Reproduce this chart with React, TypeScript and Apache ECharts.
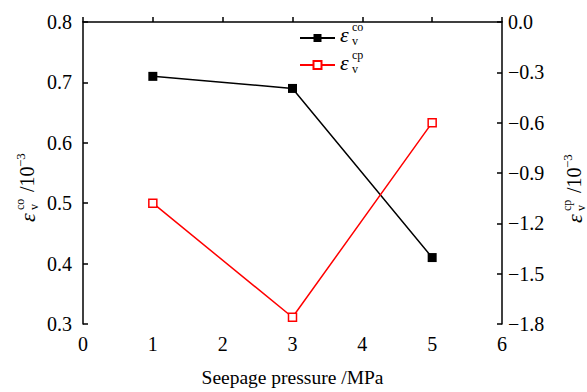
import React, { useEffect, useRef } from "react";
import * as echarts from "echarts";

const pressures = [1, 3, 5];
const strainCo = [0.71, 0.69, 0.41];
const strainCp = [-1.08, -1.76, -0.6];
const xTicks = [0, 1, 2, 3, 4, 5, 6];
const leftTicks = [0.3, 0.4, 0.5, 0.6, 0.7, 0.8];
const rightTicks = [-1.8, -1.5, -1.2, -0.9, -0.6, -0.3, 0.0];
const seriesNames = ["co", "cp"];

const FONT = "Liberation Serif";

function fmtRight(v: number) {
  if (Math.abs(v) < 1e-9) return "0.0";
  return (v < 0 ? "\u2212" : "") + Math.abs(v).toFixed(1);
}

function txt(text: string, x: number, y: number, size: number, italic = false) {
  return {
    type: "text",
    x,
    y,
    style: {
      text,
      fontFamily: FONT,
      fontSize: size,
      fontStyle: italic ? "italic" : "normal",
      fill: "#000",
      verticalAlign: "middle",
      align: "left",
    },
  };
}

function strainLabel(sup: string, x: number, y: number, rotation: number, withUnit: boolean) {
  const children: any[] = [txt("\u03b5", 0, 0, 22, true), txt(sup, 12, -7.5, 12), txt("v", 12, 6.5, 12)];
  if (withUnit) {
    children.push(txt("/10", 30, 0, 20), txt("\u22123", 55, -7, 13));
  }
  return { type: "group", x, y, rotation, children };
}

export default function App() {
  const ref = useRef<HTMLDivElement>(null);
  useEffect(() => {
    if (!ref.current) return;
    const chart = echarts.init(ref.current, undefined, { renderer: "svg" });
    const axisLine = { show: true, lineStyle: { color: "#000", width: 1.5 } };
    const axisTick = { show: true, inside: true, length: 5, lineStyle: { color: "#000", width: 1.5 } };
    chart.setOption({
      animation: false,
      backgroundColor: "#fff",
      textStyle: { fontFamily: FONT },
      grid: { left: 83, right: 85, top: 22, bottom: 66 },
      legend: {
        orient: "vertical",
        left: 294,
        top: 28,
        itemWidth: 35,
        itemHeight: 10,
        itemGap: 18,
        formatter: () => "",
        data: seriesNames.map((n) => n),
        selectedMode: false,
      },
      xAxis: {
        type: "value",
        min: xTicks[0],
        max: xTicks[xTicks.length - 1],
        interval: 1,
        name: "Seepage pressure /MPa",
        nameLocation: "middle",
        nameGap: 43,
        nameTextStyle: { fontFamily: FONT, fontSize: 19.5, color: "#000" },
        axisLine,
        axisTick,
        splitLine: { show: false },
        axisLabel: { fontFamily: FONT, fontSize: 20, color: "#000", margin: 10 },
      },
      yAxis: [
        {
          type: "value",
          min: leftTicks[0],
          max: leftTicks[leftTicks.length - 1],
          interval: 0.1,
          axisLine,
          axisTick,
          splitLine: { show: false },
          axisLabel: { fontFamily: FONT, fontSize: 20, color: "#000", margin: 11, formatter: (v: number) => v.toFixed(1) },
        },
        {
          type: "value",
          position: "right",
          min: rightTicks[0],
          max: rightTicks[rightTicks.length - 1],
          interval: 0.3,
          axisLine,
          axisTick,
          splitLine: { show: false },
          axisLabel: { fontFamily: FONT, fontSize: 20, color: "#000", margin: 6, formatter: fmtRight },
        },
      ],
      series: [
        {
          name: seriesNames[0],
          type: "line",
          yAxisIndex: 0,
          data: pressures.map((p, i) => [p, strainCo[i]]),
          symbol: "rect",
          symbolSize: 9,
          lineStyle: { color: "#000", width: 1.5 },
          itemStyle: { color: "#000" },
        },
        {
          name: seriesNames[1],
          type: "line",
          yAxisIndex: 1,
          data: pressures.map((p, i) => [p, strainCp[i]]),
          symbol: "rect",
          symbolSize: 8,
          lineStyle: { color: "#ff0000", width: 1.5 },
          itemStyle: { color: "#fff", borderColor: "#ff0000", borderWidth: 1.5 },
        },
      ],
      graphic: [
        strainLabel("co", 340, 34, 0, false),
        strainLabel("cp", 340, 62, 0, false),
        strainLabel("co", 27, 222, Math.PI / 2, true),
        strainLabel("cp", 574, 223, Math.PI / 2, true),
      ],
    });
    return () => chart.dispose();
  }, []);
  return <div ref={ref} style={{ width: 587, height: 392, position: "absolute", left: 0, top: 0 }} />;
}
